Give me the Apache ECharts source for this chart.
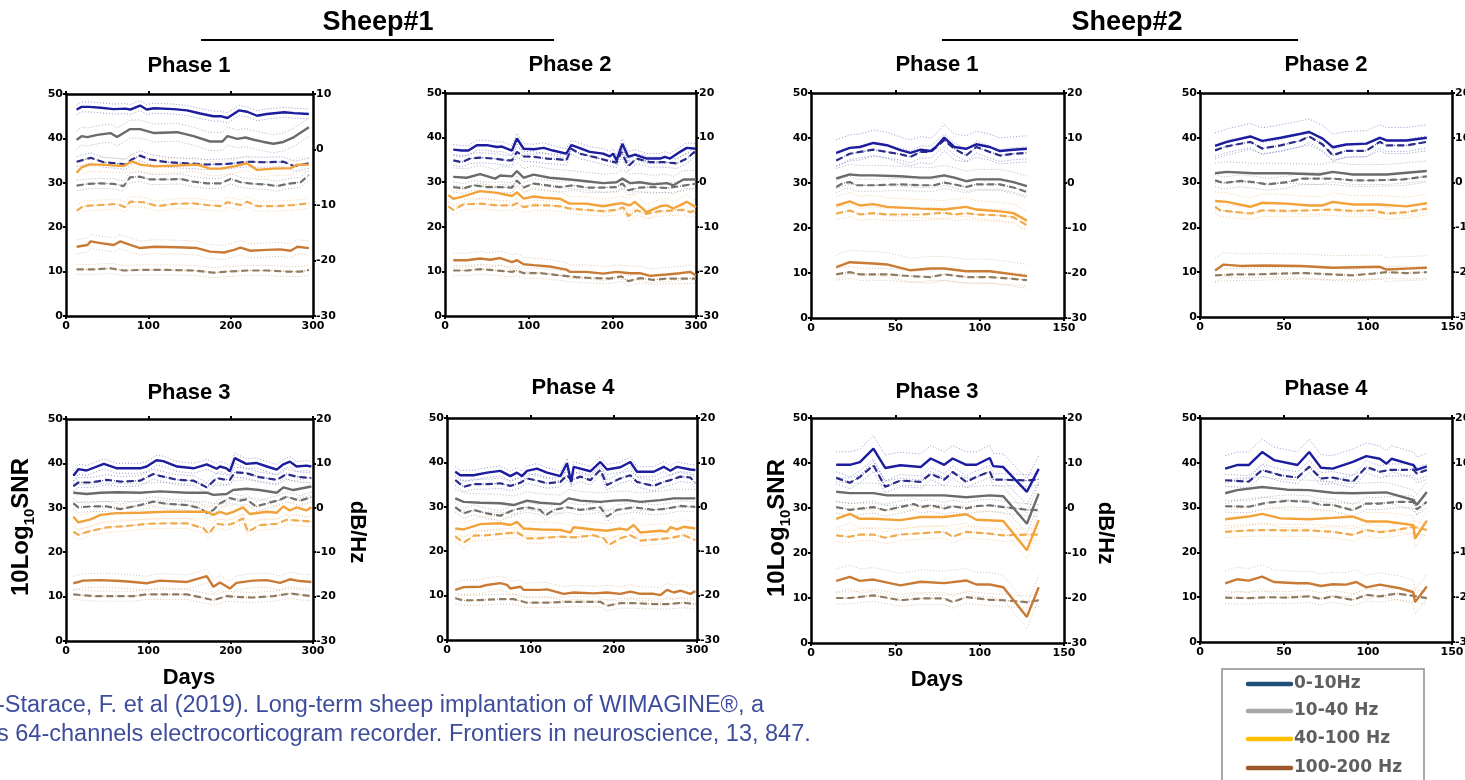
<!DOCTYPE html>
<html>
<head>
<meta charset="utf-8">
<script src="https://cdn.jsdelivr.net/npm/echarts@6/dist/echarts.min.js"></script>
<style>
  html, body { margin: 0; padding: 0; background: #ffffff; }
  #chart { width: 1465px; height: 780px; }
</style>
</head>
<body>
<div id="chart"></div>
<script>
// ---- Frequency bands ----
const BAND_NAMES = ['0-10Hz', '10-40 Hz', '40-100 Hz', '100-200 Hz'];

// ---- Sheep#1, Phase 1: [day, 10Log10SNR] and [day, dB/Hz] ----
const s1p1Snr1 = [[13,46.5],[19,47.1],[28,47.1],[42,46.9],[58,46.6],[72,46.7],[78,46.5],[90,47.4],[98,46.5],[107,46.8],[131,46.6],[147,46.3],[163,45.6],[179,45.0],[188,45.0],[196,44.6],[210,46.3],[220,46.0],[232,45.1],[244,45.5],[265,45.9],[277,45.7],[295,45.5]];
const s1p1Snr2 = [[13,39.7],[19,40.5],[26,40.3],[38,40.8],[54,41.2],[62,40.3],[70,41.2],[78,42.1],[90,42.1],[107,41.2],[135,41.4],[155,40.5],[175,39.3],[190,39.3],[196,40.5],[208,39.9],[218,40.2],[228,39.7],[240,39.2],[252,38.8],[264,39.2],[277,40.3],[295,42.5]];
const s1p1Snr3 = [[13,32.3],[19,33.5],[28,34.1],[42,34.1],[70,33.8],[80,34.8],[90,34.1],[107,33.7],[135,33.9],[159,34.1],[175,33.2],[188,33.2],[204,33.7],[220,34.4],[232,32.9],[252,33.2],[273,33.3],[281,34.1],[295,34.1]];
const s1p1Snr4 = [[13,15.6],[26,16.0],[30,16.8],[42,16.4],[58,16.0],[66,16.8],[78,16.0],[90,15.3],[107,15.6],[135,15.5],[159,15.3],[175,14.5],[192,14.3],[204,14.9],[212,15.4],[224,14.7],[244,14.9],[260,15.0],[273,14.7],[281,15.6],[295,15.3]];
const s1p1Psd1 = [[13,-2.2],[30,-1.5],[46,-2.3],[62,-2.5],[72,-2.7],[80,-1.8],[90,-1.1],[102,-1.8],[123,-2.3],[147,-2.5],[171,-2.7],[196,-2.6],[220,-2.2],[240,-2.3],[264,-2.2],[277,-3.0],[295,-2.5]];
const s1p1Psd2 = [[13,-6.5],[26,-6.2],[42,-6.1],[58,-6.2],[70,-6.6],[78,-5.0],[90,-4.9],[102,-5.4],[123,-5.4],[139,-5.3],[155,-5.8],[171,-6.1],[188,-6.1],[200,-5.3],[212,-5.9],[228,-6.2],[244,-6.3],[256,-6.6],[269,-6.2],[285,-5.9],[295,-4.6]];
const s1p1Psd3 = [[13,-11.0],[21,-10.2],[42,-10.0],[62,-9.8],[72,-10.4],[78,-9.4],[94,-9.5],[111,-10.2],[131,-9.8],[155,-9.7],[171,-10.0],[188,-10.2],[196,-9.5],[212,-10.0],[220,-9.4],[232,-10.2],[256,-10.2],[277,-10.0],[295,-9.7]];
const s1p1Psd4 = [[13,-21.6],[34,-21.6],[54,-21.4],[70,-21.8],[90,-21.7],[123,-21.7],[155,-21.8],[179,-22.2],[196,-22.0],[220,-21.8],[244,-21.8],[269,-22.0],[285,-22.0],[295,-21.7]];

// ---- Sheep#1, Phase 2 ----
const s1p2Snr1 = [[10,37.3],[20,37.1],[28,37.1],[38,38.3],[50,38.3],[62,37.9],[68,38.0],[80,37.1],[86,39.8],[94,37.5],[106,37.4],[118,37.7],[129,37.1],[145,36.4],[151,38.3],[157,37.9],[173,36.8],[189,36.4],[197,35.8],[201,36.4],[205,34.9],[212,38.6],[219,35.7],[227,36.2],[241,35.3],[257,35.3],[263,35.7],[269,35.3],[281,36.8],[289,37.7],[300,37.5]];
const s1p2Snr2 = [[10,31.2],[26,31.0],[42,31.8],[60,30.8],[66,31.5],[80,31.3],[86,32.5],[94,31.0],[106,31.7],[125,31.0],[149,30.6],[169,30.2],[189,29.8],[205,30.0],[212,30.8],[221,29.8],[233,30.0],[249,29.5],[265,29.8],[273,29.3],[285,30.6],[300,30.6]];
const s1p2Snr3 = [[4,27.1],[10,26.3],[20,26.7],[42,28.0],[62,27.6],[80,26.9],[86,27.7],[94,26.3],[106,26.8],[118,26.5],[137,26.3],[149,25.2],[169,25.2],[189,24.6],[201,25.0],[211,25.3],[221,24.8],[227,25.6],[241,23.3],[257,24.6],[265,24.8],[273,24.1],[289,25.6],[300,24.4]];
const s1p2Snr4 = [[10,12.5],[26,12.5],[42,12.9],[54,12.6],[66,13.0],[80,12.1],[86,12.5],[94,11.6],[106,11.4],[125,11.1],[145,10.4],[149,9.9],[169,9.9],[189,9.5],[205,9.9],[221,9.6],[233,9.6],[245,9.0],[265,9.3],[281,9.6],[293,9.9],[300,9.1]];
const s1p2Psd1 = [[10,4.9],[20,4.5],[30,5.3],[42,5.5],[58,5.3],[74,4.9],[80,4.9],[86,6.8],[94,5.8],[106,5.7],[122,5.3],[137,5.1],[145,4.9],[151,7.5],[161,6.4],[177,5.7],[193,4.9],[205,4.4],[211,6.8],[219,3.6],[229,5.3],[245,4.5],[261,4.5],[277,4.2],[289,5.3],[300,7.1]];
const s1p2Psd2 = [[10,-1.1],[22,-1.4],[34,-0.7],[50,-1.1],[66,-1.1],[80,-1.2],[86,0.4],[94,-1.2],[106,-0.3],[122,-0.7],[137,-1.1],[153,-0.7],[169,-1.2],[189,-1.2],[205,-1.1],[212,-0.3],[219,-1.8],[233,-1.2],[249,-1.1],[265,-1.3],[281,-0.9],[300,-0.3]];
const s1p2Psd3 = [[4,-5.4],[10,-6.2],[22,-5.0],[42,-4.8],[62,-5.2],[80,-5.2],[86,-4.7],[94,-5.6],[106,-5.2],[122,-5.2],[137,-5.4],[149,-5.9],[169,-6.2],[189,-6.5],[205,-6.2],[213,-5.6],[219,-7.6],[229,-6.3],[241,-7.1],[257,-6.5],[273,-6.3],[285,-6.2],[293,-6.7],[300,-6.3]];
const s1p2Psd4 = [[10,-19.8],[26,-19.8],[42,-19.5],[62,-19.8],[80,-20.1],[86,-19.8],[94,-20.4],[114,-20.4],[137,-20.9],[157,-21.3],[177,-21.5],[197,-21.6],[211,-21.1],[219,-22.2],[233,-21.5],[249,-21.9],[265,-21.6],[281,-21.6],[300,-21.6]];

// ---- Sheep#2, Phase 1 ----
const s2p1Snr1 = [[15,36.7],[23,37.8],[29,38.0],[37,38.9],[45,38.4],[53,37.3],[59,36.7],[65,37.4],[71,37.1],[74,38.0],[79,40.1],[85,38.0],[92,37.6],[98,38.6],[106,38.0],[112,37.1],[120,37.4],[128,37.6]];
const s2p1Snr2 = [[15,31.0],[23,31.9],[29,31.7],[37,31.7],[53,31.5],[65,31.2],[71,31.2],[79,31.7],[85,31.2],[92,30.4],[98,30.8],[112,30.8],[120,30.2],[128,29.3]];
const s2p1Snr3 = [[15,25.0],[23,25.9],[29,25.0],[37,25.3],[45,24.7],[65,24.3],[79,24.1],[92,24.7],[98,24.1],[112,23.7],[120,23.3],[128,21.6]];
const s2p1Snr4 = [[15,11.3],[23,12.4],[37,12.1],[45,11.9],[59,10.6],[71,11.0],[79,11.0],[92,10.4],[106,10.4],[120,9.7],[128,9.3]];
const s2p1Psd1 = [[15,5.0],[23,6.5],[29,6.9],[37,7.4],[45,6.9],[53,6.4],[59,5.8],[65,6.9],[71,6.9],[79,9.5],[85,7.6],[92,6.1],[98,8.0],[106,6.9],[112,6.1],[120,6.5],[128,6.7]];
const s2p1Psd2 = [[15,-0.9],[19,0.0],[23,0.2],[27,-0.5],[37,-0.5],[53,-0.3],[65,-0.5],[73,-0.5],[79,0.1],[85,-0.3],[92,-0.9],[98,-0.3],[112,-0.3],[120,-1.0],[128,-2.0]];
const s2p1Psd3 = [[15,-6.8],[23,-6.1],[29,-7.0],[37,-6.7],[45,-7.0],[65,-7.0],[79,-6.6],[85,-7.0],[92,-6.7],[98,-7.0],[112,-7.2],[120,-7.6],[128,-9.4]];
const s2p1Psd4 = [[15,-20.3],[23,-19.8],[29,-20.3],[45,-20.3],[59,-20.7],[71,-20.9],[79,-20.3],[92,-20.9],[106,-20.9],[120,-21.3],[128,-21.6]];

// ---- Sheep#2, Phase 2 ----
const s2p2Snr1 = [[9,38.2],[16,39.1],[30,40.3],[37,39.3],[48,40.0],[60,40.9],[65,41.3],[73,39.8],[79,37.9],[87,38.5],[99,38.7],[107,40.0],[111,39.4],[123,39.4],[135,40.0]];
const s2p2Snr2 = [[9,32.1],[16,32.4],[32,32.1],[52,32.1],[71,31.8],[79,32.4],[91,31.8],[111,31.8],[135,32.6]];
const s2p2Snr3 = [[9,25.9],[16,25.7],[30,24.6],[37,25.5],[52,25.3],[65,24.9],[73,24.9],[79,25.7],[91,25.1],[107,25.1],[123,24.7],[135,25.4]];
const s2p2Snr4 = [[9,10.4],[14,11.7],[24,11.4],[38,11.5],[60,11.4],[79,11.0],[107,11.2],[111,10.6],[123,10.8],[135,11.0]];
const s2p2Psd1 = [[9,7.2],[16,8.1],[30,9.1],[37,7.6],[48,8.3],[60,9.4],[65,10.3],[73,8.5],[79,6.1],[87,7.1],[99,7.1],[107,9.1],[111,8.3],[123,8.3],[135,9.1]];
const s2p2Psd2 = [[9,0.5],[14,-0.1],[24,0.4],[32,0.1],[40,-0.4],[52,0.1],[60,0.9],[71,0.9],[79,0.9],[91,0.5],[103,0.5],[121,0.7],[135,1.4]];
const s2p2Psd3 = [[9,-5.4],[12,-6.2],[30,-6.9],[37,-6.2],[52,-6.3],[65,-6.2],[79,-6.0],[91,-6.3],[103,-6.2],[111,-6.9],[123,-6.6],[135,-5.8]];
const s2p2Psd4 = [[9,-20.7],[20,-20.5],[32,-20.5],[48,-20.3],[63,-20.2],[79,-20.5],[91,-20.7],[103,-20.3],[111,-20.0],[123,-20.2],[135,-20.0]];

// ---- Sheep#1, Phase 3 ----
const s1p3Snr1 = [[9,37.2],[15,38.7],[25,38.4],[46,39.9],[62,38.9],[90,38.9],[98,39.3],[110,40.7],[118,40.5],[135,39.3],[155,38.9],[171,39.8],[183,38.8],[187,39.3],[195,38.9],[199,38.2],[205,41.2],[219,39.9],[231,40.1],[244,39.3],[256,38.6],[264,39.8],[272,40.4],[280,39.3],[292,39.5],[298,39.3]];
const s1p3Snr2 = [[9,33.4],[25,33.1],[42,33.4],[62,33.5],[90,33.4],[114,33.7],[147,33.4],[171,33.4],[179,32.9],[195,33.1],[203,34.0],[219,34.3],[235,34.0],[256,33.4],[264,34.6],[276,34.0],[298,34.8]];
const s1p3Snr3 = [[9,28.0],[15,26.7],[30,27.4],[42,28.4],[62,28.8],[90,28.9],[122,29.1],[147,29.1],[171,29.1],[179,28.4],[187,29.1],[195,28.6],[203,29.1],[215,30.1],[223,28.6],[244,29.1],[256,28.9],[264,30.3],[272,29.4],[280,30.1],[292,29.4],[298,30.1]];
const s1p3Snr4 = [[9,13.0],[21,13.6],[42,13.7],[66,13.5],[82,13.3],[98,13.0],[114,13.6],[147,13.3],[171,14.6],[179,12.2],[187,13.2],[199,11.8],[207,13.1],[227,13.6],[244,13.7],[260,13.1],[272,13.9],[284,13.5],[298,13.3]];
const s1p3Psd1 = [[9,4.9],[15,5.7],[30,5.7],[50,6.3],[66,5.9],[90,6.1],[106,7.6],[114,7.2],[135,6.3],[155,6.1],[171,4.6],[183,6.7],[191,6.4],[199,6.3],[205,8.0],[219,7.8],[235,6.9],[256,6.3],[268,7.6],[280,7.0],[298,6.7]];
const s1p3Psd2 = [[9,1.0],[15,0.1],[30,0.3],[50,0.3],[66,-0.3],[90,0.6],[106,1.4],[122,0.9],[147,0.6],[163,-0.1],[171,-1.2],[179,-0.5],[187,1.0],[199,2.2],[211,1.6],[219,1.9],[231,0.3],[244,1.0],[260,1.8],[268,2.5],[284,1.6],[298,2.4]];
const s1p3Psd3 = [[9,-5.4],[15,-6.1],[30,-5.2],[50,-4.4],[74,-4.1],[98,-3.6],[122,-3.5],[147,-3.5],[167,-4.6],[173,-5.9],[183,-3.6],[195,-3.9],[203,-3.5],[215,-2.4],[221,-5.4],[235,-3.9],[256,-3.6],[268,-2.7],[284,-2.9],[298,-3.1]];
const s1p3Psd4 = [[9,-19.5],[34,-19.9],[58,-19.9],[82,-19.9],[98,-19.5],[122,-19.5],[147,-19.5],[167,-20.3],[179,-20.8],[195,-19.9],[211,-20.1],[227,-20.2],[252,-19.9],[272,-19.3],[298,-19.9]];

// ---- Sheep#1, Phase 4 ----
const s1p4Snr1 = [[10,37.9],[16,37.1],[32,37.1],[48,37.7],[64,38.1],[76,36.9],[84,37.7],[90,36.9],[96,38.1],[108,38.6],[120,37.7],[136,36.9],[144,39.8],[149,35.6],[152,39.0],[172,38.0],[184,40.1],[192,38.4],[208,38.9],[220,40.1],[228,37.9],[248,37.9],[260,39.0],[268,38.1],[276,39.0],[292,38.4],[298,38.3]];
const s1p4Snr2 = [[10,31.9],[20,31.1],[40,30.9],[64,30.8],[80,30.4],[96,31.4],[112,30.9],[136,30.6],[146,31.9],[160,31.4],[184,31.1],[200,31.4],[216,31.5],[232,31.1],[256,31.5],[272,31.9],[298,31.9]];
const s1p4Snr3 = [[10,25.1],[20,24.9],[40,26.1],[64,26.3],[76,25.9],[84,26.6],[92,25.1],[112,24.9],[136,24.8],[148,24.2],[152,25.4],[176,24.9],[192,24.6],[208,25.1],[216,24.8],[224,25.9],[232,24.2],[256,24.6],[264,24.4],[268,25.4],[276,24.9],[284,25.5],[298,25.1]];
const s1p4Snr4 = [[10,11.3],[20,11.9],[40,12.0],[48,12.4],[64,12.8],[72,12.4],[76,11.6],[88,12.0],[92,11.3],[112,11.3],[120,11.4],[140,10.4],[152,10.7],[176,10.5],[192,10.7],[208,10.4],[220,10.9],[232,10.4],[248,10.4],[256,10.1],[264,11.3],[272,10.7],[280,11.1],[292,10.4],[298,11.0]];
const s1p4Psd1 = [[10,6.0],[20,4.5],[32,5.1],[48,5.1],[64,5.3],[76,4.7],[88,5.4],[96,6.4],[108,5.9],[120,5.3],[136,5.6],[144,7.1],[149,6.0],[160,6.8],[172,6.0],[184,8.3],[192,4.9],[208,6.4],[220,7.1],[228,5.6],[248,4.7],[260,5.6],[268,6.0],[280,6.8],[292,6.6],[298,5.3]];
const s1p4Psd2 = [[10,-0.1],[20,-1.5],[32,-0.7],[48,-1.5],[64,-2.0],[80,-0.7],[96,-0.1],[112,-0.7],[118,-2.0],[128,-0.7],[144,-0.1],[160,-0.7],[184,-0.1],[192,-2.2],[204,-0.7],[224,-0.1],[248,-0.7],[264,-0.4],[280,0.2],[298,0.0]];
const s1p4Psd3 = [[10,-6.7],[20,-8.1],[32,-6.5],[48,-6.4],[64,-6.1],[84,-5.8],[96,-7.1],[112,-7.1],[136,-6.7],[152,-6.9],[176,-6.4],[188,-7.1],[194,-8.6],[208,-7.1],[220,-6.4],[232,-7.6],[256,-7.3],[272,-6.9],[284,-6.4],[298,-7.5]];
const s1p4Psd4 = [[10,-20.6],[20,-21.1],[40,-21.0],[64,-20.8],[80,-20.8],[96,-21.6],[120,-21.6],[144,-21.4],[168,-21.4],[184,-21.4],[192,-22.3],[208,-21.7],[224,-21.7],[248,-21.9],[264,-21.9],[284,-21.6],[298,-21.9]];

// ---- Sheep#2, Phase 3 ----
const s2p3Snr1 = [[15,39.6],[23,39.6],[29,40.2],[37,43.2],[44,38.9],[53,39.5],[65,39.1],[71,41.0],[79,39.6],[84,41.0],[92,39.6],[98,39.6],[106,41.1],[108,39.3],[114,39.1],[128,33.6],[135,38.7]];
const s2p3Snr2 = [[15,33.6],[23,33.3],[37,33.3],[45,32.8],[65,32.8],[79,32.8],[92,32.4],[106,32.8],[114,32.6],[128,26.5],[135,33.2]];
const s2p3Snr3 = [[15,27.6],[23,28.7],[29,27.6],[37,27.6],[53,27.3],[65,28.0],[79,28.0],[92,28.6],[98,27.4],[114,27.1],[128,20.6],[135,27.3]];
const s2p3Snr4 = [[15,13.8],[23,14.7],[29,13.8],[37,14.1],[53,12.8],[65,13.6],[79,13.3],[92,13.9],[98,13.0],[106,13.0],[114,12.4],[128,5.8],[135,12.4]];
const s2p3Psd1 = [[15,6.7],[23,5.6],[29,6.9],[37,9.5],[44,4.7],[53,6.1],[65,5.8],[71,7.6],[79,6.3],[84,8.0],[92,5.8],[98,6.9],[106,8.1],[108,6.3],[114,6.3],[128,6.1],[135,6.4]];
const s2p3Psd2 = [[15,0.2],[23,-0.4],[37,0.2],[44,-0.5],[53,0.2],[61,0.9],[65,0.2],[71,0.6],[79,-0.1],[84,0.4],[92,-0.1],[98,0.4],[106,0.6],[114,0.2],[128,-0.4],[135,-0.5]];
const s2p3Psd3 = [[15,-6.1],[23,-6.4],[29,-5.9],[37,-5.9],[44,-6.6],[53,-5.9],[65,-5.6],[79,-5.3],[84,-6.4],[92,-5.3],[106,-5.7],[114,-6.1],[128,-5.9],[135,-5.9]];
const s2p3Psd4 = [[15,-20.0],[23,-20.0],[37,-19.4],[53,-20.5],[65,-20.1],[79,-20.1],[84,-20.9],[92,-19.8],[106,-20.4],[114,-20.5],[128,-20.9],[135,-20.5]];

// ---- Sheep#2, Phase 4 ----
const s2p4Snr1 = [[15,38.7],[22,39.5],[29,39.5],[37,42.4],[44,40.6],[58,39.5],[65,42.4],[72,38.9],[79,38.7],[91,40.2],[99,41.5],[107,40.9],[111,39.8],[114,40.9],[127,39.5],[129,38.4],[135,39.2]];
const s2p4Snr2 = [[15,33.2],[22,33.9],[37,34.6],[52,34.0],[65,33.9],[79,33.3],[91,33.2],[111,33.4],[127,31.7],[129,30.6],[135,33.5]];
const s2p4Snr3 = [[15,27.4],[29,28.0],[37,28.6],[48,27.6],[65,27.4],[79,27.7],[91,28.0],[99,26.9],[111,26.9],[127,26.1],[128,23.1],[135,27.1]];
const s2p4Snr4 = [[15,13.1],[22,14.0],[29,13.7],[37,14.6],[44,13.4],[58,13.1],[65,13.1],[72,12.5],[79,12.9],[87,12.8],[93,13.4],[99,12.2],[107,12.8],[119,12.0],[127,11.1],[128,8.9],[135,12.4]];
const s2p4Psd1 = [[15,6.1],[29,5.8],[37,8.4],[48,7.2],[58,6.7],[65,9.1],[72,6.5],[79,6.7],[91,5.8],[99,9.1],[107,8.0],[113,8.4],[121,8.4],[127,8.5],[129,7.6],[135,8.4]];
const s2p4Psd2 = [[15,0.3],[29,0.2],[40,1.1],[52,1.5],[65,1.3],[72,0.6],[79,0.6],[91,-0.6],[99,0.9],[107,0.9],[117,1.3],[127,1.3],[129,-0.4],[135,1.3]];
const s2p4Psd3 = [[15,-5.4],[29,-5.1],[40,-5.0],[52,-5.1],[65,-5.1],[79,-5.4],[91,-6.1],[99,-5.0],[107,-5.5],[117,-5.0],[127,-4.3],[135,-5.0]];
const s2p4Psd4 = [[15,-20.1],[29,-20.2],[40,-20.0],[52,-20.1],[65,-19.8],[72,-20.4],[79,-19.8],[91,-20.6],[99,-19.5],[107,-19.8],[117,-19.2],[127,-19.7],[135,-20.2]];

// ---- Colours ----
const LEGEND_COLORS = ['#1f4e79', '#a6a6a6', '#ffc000', '#9c5a2a'];
const SNR_COLORS    = ['#1c1c9e', '#6b6b6b', '#f2a238', '#c97b35'];
const PSD_COLORS    = ['#2b2b8a', '#707070', '#efaa4c', '#8e7c62'];
const DOT_COLORS    = ['rgba(70,70,165,0.75)', 'rgba(105,105,105,0.7)', 'rgba(240,170,90,0.75)', 'rgba(185,135,85,0.7)'];

const FONT = '"Liberation Sans", Arial, sans-serif';
const TICK_FONT = '"DejaVu Sans", "Liberation Sans", sans-serif';

// ---- Panel layout ----
const DOTS_SHEEP1 = { snr: [5, 9, 7, 7], psd: [5, 5, 5, 5] };
const DOTS_SHEEP2 = { snr: [13, 10, 9, 12], psd: [6, 6, 6, 6] };

const panels = [
  { title: 'Phase 1', tx: 189,  ty: 66,  left: 66,   top: 94,  w: 247, h: 222, xMax: 300, xStep: 100, rMax: 10, dots: DOTS_SHEEP1,
    snr: [s1p1Snr1, s1p1Snr2, s1p1Snr3, s1p1Snr4], psd: [s1p1Psd1, s1p1Psd2, s1p1Psd3, s1p1Psd4] },
  { title: 'Phase 2', tx: 570,  ty: 65,  left: 445,  top: 93,  w: 251, h: 223, xMax: 300, xStep: 100, rMax: 20, dots: DOTS_SHEEP1,
    snr: [s1p2Snr1, s1p2Snr2, s1p2Snr3, s1p2Snr4], psd: [s1p2Psd1, s1p2Psd2, s1p2Psd3, s1p2Psd4] },
  { title: 'Phase 1', tx: 937,  ty: 65,  left: 811,  top: 93,  w: 253, h: 225, xMax: 150, xStep: 50,  rMax: 20, dots: DOTS_SHEEP2,
    snr: [s2p1Snr1, s2p1Snr2, s2p1Snr3, s2p1Snr4], psd: [s2p1Psd1, s2p1Psd2, s2p1Psd3, s2p1Psd4] },
  { title: 'Phase 2', tx: 1326, ty: 65,  left: 1200, top: 93,  w: 252, h: 224, xMax: 150, xStep: 50,  rMax: 20, dots: DOTS_SHEEP2,
    snr: [s2p2Snr1, s2p2Snr2, s2p2Snr3, s2p2Snr4], psd: [s2p2Psd1, s2p2Psd2, s2p2Psd3, s2p2Psd4] },
  { title: 'Phase 3', tx: 189,  ty: 393, left: 66,   top: 419, w: 247, h: 222, xMax: 300, xStep: 100, rMax: 20, dots: DOTS_SHEEP1,
    snr: [s1p3Snr1, s1p3Snr2, s1p3Snr3, s1p3Snr4], psd: [s1p3Psd1, s1p3Psd2, s1p3Psd3, s1p3Psd4] },
  { title: 'Phase 4', tx: 573,  ty: 388, left: 447,  top: 418, w: 250, h: 222, xMax: 300, xStep: 100, rMax: 20, dots: DOTS_SHEEP1,
    snr: [s1p4Snr1, s1p4Snr2, s1p4Snr3, s1p4Snr4], psd: [s1p4Psd1, s1p4Psd2, s1p4Psd3, s1p4Psd4] },
  { title: 'Phase 3', tx: 937,  ty: 392, left: 811,  top: 418, w: 253, h: 225, xMax: 150, xStep: 50,  rMax: 20, dots: DOTS_SHEEP2,
    snr: [s2p3Snr1, s2p3Snr2, s2p3Snr3, s2p3Snr4], psd: [s2p3Psd1, s2p3Psd2, s2p3Psd3, s2p3Psd4] },
  { title: 'Phase 4', tx: 1326, ty: 389, left: 1200, top: 418, w: 252, h: 224, xMax: 150, xStep: 50,  rMax: 20, dots: DOTS_SHEEP2,
    snr: [s2p4Snr1, s2p4Snr2, s2p4Snr3, s2p4Snr4], psd: [s2p4Psd1, s2p4Psd2, s2p4Psd3, s2p4Psd4] }
];

// ---- Axis helpers ----
const frameLine = { show: true, onZero: false, lineStyle: { color: '#000', width: 2.5 } };
const tickStyle = { show: true, length: 3, lineStyle: { color: '#000', width: 2 } };
const tickLabel = { color: '#000', fontFamily: TICK_FONT, fontWeight: 'bold', fontSize: 11 };

const grid = [], xAxis = [], yAxis = [], series = [], graphic = [];

panels.forEach((p, i) => {
  // fixed pixel frames; labels may run past the page edge
  grid.push({ left: p.left, top: p.top, width: p.w, height: p.h, containLabel: false, outerBoundsMode: 'none' });

  // bottom and top frame (days)
  xAxis.push({ gridIndex: i, type: 'value', position: 'bottom', min: 0, max: p.xMax, interval: p.xStep,
    axisLine: frameLine, axisTick: tickStyle, splitLine: { show: false },
    axisLabel: Object.assign({ margin: 5 }, tickLabel) });
  xAxis.push({ gridIndex: i, type: 'value', position: 'top', min: 0, max: p.xMax, interval: p.xStep,
    axisLine: frameLine, axisTick: tickStyle, splitLine: { show: false }, axisLabel: { show: false } });

  // left: 10Log10SNR, right: dB/Hz
  yAxis.push({ gridIndex: i, type: 'value', position: 'left', min: 0, max: 50, interval: 10,
    axisLine: frameLine, axisTick: tickStyle, splitLine: { show: false },
    axisLabel: Object.assign({ margin: 3 }, tickLabel) });
  yAxis.push({ gridIndex: i, type: 'value', position: 'right', min: -30, max: p.rMax, interval: 10,
    axisLine: frameLine, axisTick: tickStyle, splitLine: { show: false },
    axisLabel: Object.assign({ margin: 3 }, tickLabel) });

  const xi = 2 * i;
  const addLine = (data, yi, b, color, dash, width, z, dotOffset) => {
    // dotted spread lines above and below the mean trace
    [-dotOffset, dotOffset].forEach(off => {
      series.push({ type: 'line', xAxisIndex: xi, yAxisIndex: yi, data: data, symbol: 'none', silent: true,
        z: 1, lineStyle: { type: [1, 2], width: 1, color: DOT_COLORS[b],
          shadowColor: DOT_COLORS[b], shadowBlur: 0, shadowOffsetX: 0, shadowOffsetY: off } });
    });
    series.push({ type: 'line', name: BAND_NAMES[b], xAxisIndex: xi, yAxisIndex: yi, data: data,
      symbol: 'none', silent: true, z: z,
      lineStyle: { type: dash, width: width, color: color } });
  };
  for (let b = 0; b < 4; b++) {
    addLine(p.psd[b], xi + 1, b, PSD_COLORS[b], [7, 4], 2.2, 3, p.dots.psd[b]);
    addLine(p.snr[b], xi, b, SNR_COLORS[b], 'solid', 2.4, 4, p.dots.snr[b]);
  }

  graphic.push({ type: 'text', x: p.tx, y: p.ty, silent: true,
    style: { text: p.title, font: 'bold 22px ' + FONT, fill: '#000', align: 'center', verticalAlign: 'middle' } });
});

// ---- Headers ----
[['Sheep#1', 378, 201, 554], ['Sheep#2', 1127, 942, 1298]].forEach(([t, cx, x1, x2]) => {
  graphic.push({ type: 'text', x: cx, y: 23, silent: true,
    style: { text: t, font: 'bold 27px ' + FONT, fill: '#000', align: 'center', verticalAlign: 'middle' } });
  graphic.push({ type: 'line', silent: true, shape: { x1: x1, y1: 40, x2: x2, y2: 40 },
    style: { stroke: '#000', lineWidth: 2 } });
});

// ---- Axis titles on the lower-left panel of each sheep ----
const snrRich = {
  m: { font: 'bold 24px ' + FONT, fill: '#000', lineHeight: 32, verticalAlign: 'middle' },
  s: { font: 'bold 15px ' + FONT, fill: '#000', lineHeight: 32, verticalAlign: 'bottom' }
};
[[21, 527, 357, 532, 189, 678], [777, 528, 1105, 533, 937, 680]].forEach(([sx, sy, dx, dy, ax, ay]) => {
  graphic.push({ type: 'text', x: sx, y: sy, rotation: Math.PI / 2, silent: true,
    style: { text: '{m|10Log}{s|10}{m|SNR}', rich: snrRich, align: 'center', verticalAlign: 'middle' } });
  graphic.push({ type: 'text', x: dx, y: dy, rotation: -Math.PI / 2, silent: true,
    style: { text: 'dB/Hz', font: 'bold 22px ' + FONT, fill: '#000', align: 'center', verticalAlign: 'middle' } });
  graphic.push({ type: 'text', x: ax, y: ay, silent: true,
    style: { text: 'Days', font: 'bold 22px ' + FONT, fill: '#000', align: 'center', verticalAlign: 'middle' } });
});

// ---- Key: frame, coloured strokes and band labels ----
const KEY_ROWS = [684, 711, 739, 768];
graphic.push({ type: 'rect', silent: true, shape: { x: 1222, y: 669, width: 202, height: 150 },
  style: { fill: 'none', stroke: '#8c8c8c', lineWidth: 1.5 } });
BAND_NAMES.forEach((name, b) => {
  graphic.push({ type: 'line', silent: true, shape: { x1: 1248, y1: KEY_ROWS[b], x2: 1291, y2: KEY_ROWS[b] },
    style: { stroke: LEGEND_COLORS[b], lineWidth: 4.5, lineCap: 'round' } });
  graphic.push({ type: 'text', silent: true, x: 1294, y: KEY_ROWS[b],
    style: { text: name, font: 'bold 17px ' + TICK_FONT, fill: '#5f5f5f', align: 'left', verticalAlign: 'middle' } });
});

// ---- Reference line ----
graphic.push({ type: 'text', x: -3, y: 706, silent: true,
  style: { text: '-Starace, F. et al (2019). Long-term sheep implantation of WIMAGINE\u00AE, a',
    font: '23.5px ' + FONT, fill: '#3e4d9b', align: 'left', verticalAlign: 'middle' } });
graphic.push({ type: 'text', x: -3, y: 735, silent: true,
  style: { text: 's 64-channels electrocorticogram recorder. Frontiers in neuroscience, 13, 847.',
    font: '23.5px ' + FONT, fill: '#3e4d9b', align: 'left', verticalAlign: 'middle' } });

const chart = echarts.init(document.getElementById('chart'), null, { renderer: 'canvas' });
chart.setOption({
  backgroundColor: '#ffffff',
  animation: false,
  grid: grid,
  xAxis: xAxis,
  yAxis: yAxis,
  series: series,
  graphic: graphic
});
</script>
</body>
</html>
